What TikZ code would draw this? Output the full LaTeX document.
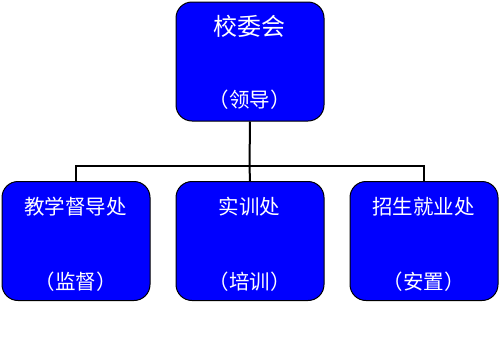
\documentclass[tikz,border=0pt]{standalone}
\usepackage{fontspec}
\newfontfamily\cjk{Noto Sans CJK SC}
\definecolor{boxblue}{RGB}{0,0,255}
\begin{document}
\begin{tikzpicture}[x=1pt,y=-1pt,
  orgbox/.style={draw=black,line width=1pt,fill=boxblue,rounded corners=16pt,minimum width=148pt,minimum height=119pt,inner sep=0pt,anchor=north west},
  lbl/.style={text=white,font=\cjk\fontsize{20.5}{24}\selectfont,inner sep=0pt},
  biglbl/.style={text=white,font=\cjk\fontsize{24}{28}\selectfont,inner sep=0pt},
  conn/.style={draw=black,line width=2pt}]
\useasboundingbox (0,0) rectangle (500,346);
\node[orgbox] (top) at (175.5,1.5) {};
\node[orgbox] (b1) at (1.5,181) {};
\node[orgbox] (b2) at (175.5,181) {};
\node[orgbox] (b3) at (349.5,181) {};
\node[biglbl] at (249.5,26) {校委会};
\node[lbl] at (249.5,100) {（领导）};
\node[lbl] at (75.5,207) {教学督导处};
\node[lbl] at (75.5,282) {（监督）};
\node[lbl] at (249.5,207) {实训处};
\node[lbl] at (249.5,282) {（培训）};
\node[lbl] at (423.5,207) {招生就业处};
\node[lbl] at (423.5,282) {（安置）};
\coordinate (hub) at (249.5,166);
\draw[conn] (top.south) -- (hub);
\draw[conn] (hub) -- (b2.north);
\draw[conn] (b1.north) |- (hub) -| (b3.north);
\end{tikzpicture}
\end{document}
